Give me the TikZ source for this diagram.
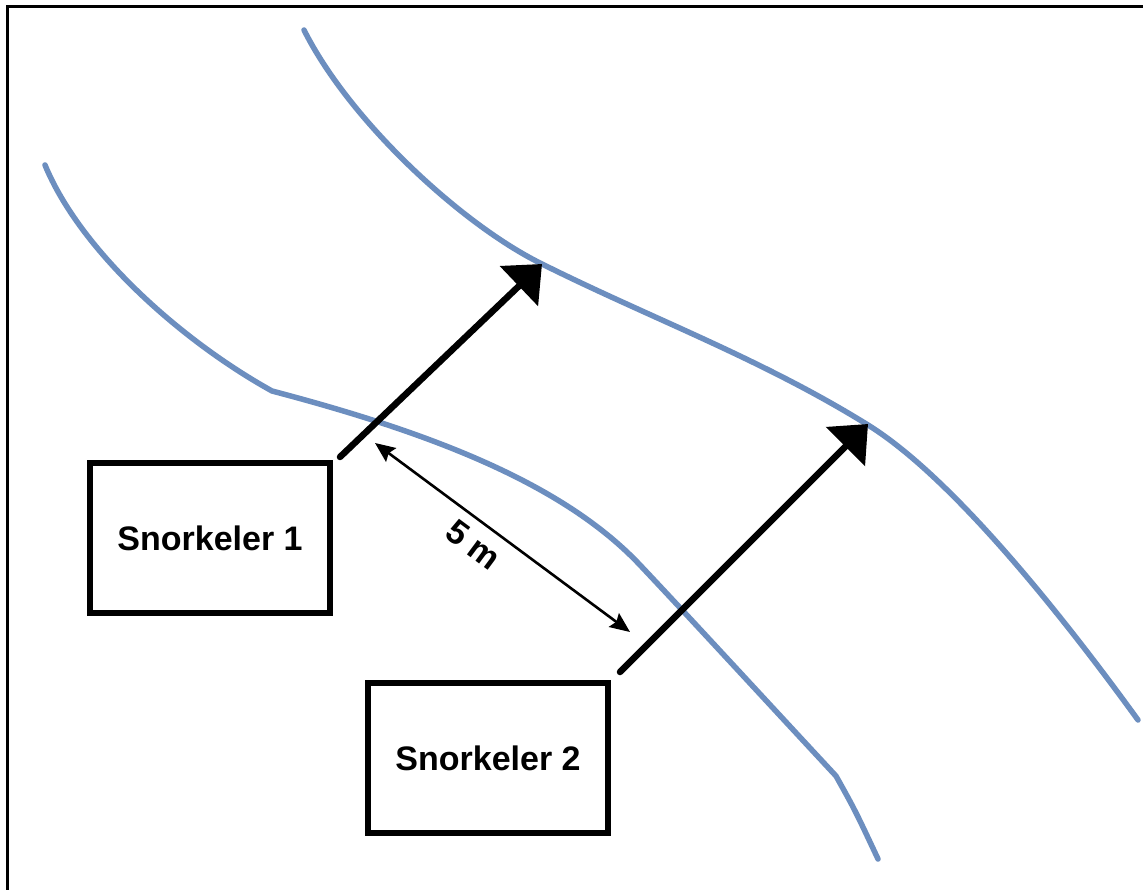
\documentclass[tikz,border=0pt]{standalone}
\usepackage{fontspec}
\setmainfont{Liberation Sans}
\usetikzlibrary{arrows.meta}
\definecolor{river}{RGB}{108,142,191}
\begin{document}
\begin{tikzpicture}[x=1pt,y=-1pt,
  bank/.style={draw=river,line width=5.5pt,line cap=round,line join=round},
  diver/.style={draw,line width=6.5pt,minimum width=240pt,minimum height=150pt,
    inner sep=0pt,font=\fontsize{34}{40}\selectfont\bfseries},
  heading/.style={line width=6.5pt,line cap=round,-{Triangle[length=32pt,width=54pt]}},
  spacing/.style={line width=2.6pt,
    {Stealth[length=20pt,width=17pt,inset=3pt]}-{Stealth[length=20pt,width=17pt,inset=3pt]}}]
\useasboundingbox (0,0) rectangle (1143,890);
\fill[white] (0,0) rectangle (1143,890);
% frame
\draw[line width=3pt] (1143,7) -- (7,7) -- (7,890);

% river banks
\draw[bank] (304,30) .. controls (349,120) and (460,223) .. (540,263)
  .. controls (650,318) and (760,358) .. (868,425)
  .. controls (960,482) and (1080,640) .. (1138,720);
\draw[bank] (45,165) .. controls (80,250) and (180,340) .. (272,391)
  .. controls (420,430) and (560,480) .. (640,565)
  .. controls (690,618) and (770,705) .. (836,776)
  .. controls (855,810) .. (878,859);

% snorkelers
\node[diver] (s1) at (210,538) {Snorkeler 1};
\node[diver] (s2) at (488,758) {Snorkeler 2};

% swimming directions
\coordinate (h1s) at (340,457);
\coordinate (h1e) at (542,264);
\coordinate (h2s) at (620,672);
\coordinate (h2e) at (868,424);
\draw[heading] (h1s) -- (h1e);
\draw[heading] (h2s) -- (h2e);

% spacing between snorkelers
\coordinate (d1) at (375,443);
\coordinate (d2) at (630,632);
\draw[spacing] (d1) -- node[pos=0.44,sloped,below,inner sep=10pt,
  font=\fontsize{34}{40}\selectfont\bfseries] (dl) {5 m} (d2);
\end{tikzpicture}
\end{document}
